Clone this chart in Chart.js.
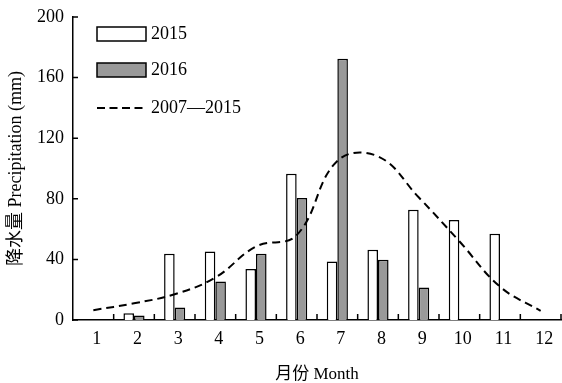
<!DOCTYPE html>
<html>
<head>
<meta charset="utf-8">
<script src="https://cdn.jsdelivr.net/npm/chart.js@4"></script>
<style>
  html, body { margin: 0; padding: 0; background: #fff; }
  #wrap { width: 562px; height: 383px; }
</style>
</head>
<body>
<div id="wrap"><canvas id="rainChart" width="562" height="383"></canvas></div>
<script>
// 月份與降水量資料 (mm)
const months = ["1", "2", "3", "4", "5", "6", "7", "8", "9", "10", "11", "12"];
const rain2015 = [0, 4.4, 43.7, 45.2, 33.6, 96.5, 38.6, 46.4, 72.8, 66, 57, 0];
const rain2016 = [0, 2.9, 8.2, 25.4, 43.7, 80.6, 172.5, 39.7, 21.4, 0, 0, 0];
const rainAvg = [6.5, 11, 17, 28, 48.5, 56, 105, 108, 81, 52, 22, 6];
const yTicks = [0, 40, 80, 120, 160, 200];

const FONT = '"Liberation Serif", "Noto Sans CJK SC", serif';
const GRAY = "#999999";

// 刻度線向內 (x 軸朝上、y 軸朝右)
const axisTicks = {
  id: "axisTicks",
  afterDraw(chart) {
    const ctx = chart.ctx;
    const xs = chart.scales.x;
    const ys = chart.scales.y;
    const step = xs.width / months.length;
    ctx.save();
    ctx.strokeStyle = "#000";
    ctx.lineWidth = 1.5;
    ctx.beginPath();
    for (let i = 1; i <= months.length; i++) {
      const x = xs.left + i * step;
      ctx.moveTo(x, ys.bottom);
      ctx.lineTo(x, ys.bottom - 6);
    }
    yTicks.forEach((v) => {
      const y = ys.getPixelForValue(v);
      ctx.moveTo(xs.left, y);
      ctx.lineTo(xs.left + 5, y);
    });
    ctx.stroke();
    ctx.restore();
  },
};

// 圖例 (左上角)
const boxLegend = {
  id: "boxLegend",
  afterDraw(chart) {
    const ctx = chart.ctx;
    const area = chart.chartArea;
    const x0 = area.left + 24;
    const items = [
      { label: "2015", fill: "#fff", y: 27 },
      { label: "2016", fill: GRAY, y: 63 },
    ];
    ctx.save();
    ctx.lineWidth = 1.5;
    ctx.strokeStyle = "#000";
    items.forEach((it) => {
      ctx.fillStyle = it.fill;
      ctx.fillRect(x0, it.y, 49, 14);
      ctx.strokeRect(x0, it.y, 49, 14);
    });
    const ly = 108;
    ctx.lineWidth = 2;
    ctx.setLineDash([8, 4.5]);
    ctx.beginPath();
    ctx.moveTo(x0, ly);
    ctx.lineTo(x0 + 49, ly);
    ctx.stroke();
    ctx.setLineDash([]);

    ctx.fillStyle = "#000";
    ctx.font = "18px " + FONT;
    ctx.textBaseline = "middle";
    ctx.textAlign = "left";
    ctx.fillText("2015", x0 + 54, items[0].y + 7);
    ctx.fillText("2016", x0 + 54, items[1].y + 7);
    ctx.fillText("2007\u20142015", x0 + 54, ly);
    ctx.restore();
  },
};

new Chart(document.getElementById("rainChart"), {
  data: {
    labels: months,
    datasets: [
      {
        type: "line",
        label: "2007\u20142015",
        data: rainAvg,
        borderColor: "#000",
        borderWidth: 2,
        borderDash: [8, 5],
        pointRadius: 0,
        tension: 0.4,
        fill: false,
        order: 0,
      },
      {
        type: "bar",
        label: "2015",
        data: rain2015,
        backgroundColor: "#fff",
        borderColor: "#000",
        borderWidth: 1.5,
        categoryPercentage: 0.52,
        barPercentage: 1,
        order: 1,
      },
      {
        type: "bar",
        label: "2016",
        data: rain2016,
        backgroundColor: GRAY,
        borderColor: "#000",
        borderWidth: 1.5,
        categoryPercentage: 0.52,
        barPercentage: 1,
        order: 1,
      },
    ],
  },
  options: {
    responsive: false,
    animation: false,
    layout: { padding: { left: 0, right: 1, top: 17, bottom: 0 } },
    plugins: {
      legend: { display: false },
      tooltip: { enabled: false },
    },
    scales: {
      x: {
        offset: true,
        grid: { display: false, drawTicks: false, offset: true },
        border: { display: true, color: "#000", width: 1.5 },
        ticks: {
          color: "#000",
          font: { family: FONT, size: 18 },
          padding: 8,
          labelOffset: 3.5,
          maxRotation: 0,
        },
        title: {
          display: true,
          text: "月份 Month",
          color: "#000",
          font: { family: FONT, size: 17 },
          padding: { top: 0, bottom: -2 },
        },
        afterFit(scale) {
          scale.height = 63;
        },
      },
      y: {
        min: 0,
        max: 200,
        grid: { display: false, drawTicks: false },
        border: { display: true, color: "#000", width: 1.5 },
        ticks: {
          stepSize: 40,
          color: "#000",
          font: { family: FONT, size: 18 },
          padding: 9,
        },
        title: {
          display: true,
          text: "降水量 Precipitation (mm)",
          color: "#000",
          font: { family: FONT, size: 18 },
          padding: { top: 5, bottom: 0 },
        },
        afterFit(scale) {
          scale.width = 73;
          scale.paddingTop = 0;
          scale.paddingBottom = 0;
        },
      },
    },
  },
  plugins: [axisTicks, boxLegend],
});
</script>
</body>
</html>
